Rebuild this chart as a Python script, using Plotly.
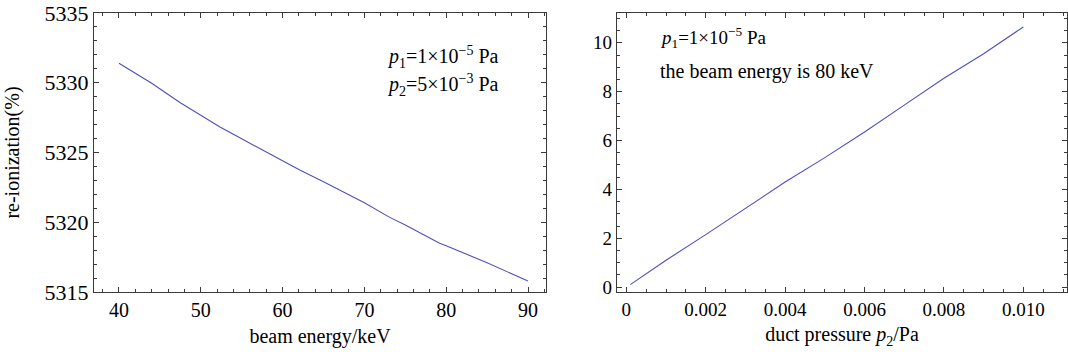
import plotly.graph_objects as go

# Left panel: re-ionization vs beam energy
energy_kev = [40, 44, 47.5, 50, 52.4, 55, 57, 60, 62.1, 65, 68.2, 70, 73.1, 75, 79.2, 80, 85, 90]
reion_left = [5331.40, 5329.96, 5328.57, 5327.70, 5326.81, 5325.98, 5325.34, 5324.41, 5323.75,
              5322.90, 5321.95, 5321.40, 5320.35, 5319.80, 5318.49, 5318.31, 5317.10, 5315.78]

# Right panel: re-ionization vs duct pressure p2
pressure_pa = [0.0001, 0.001, 0.002, 0.003, 0.004, 0.005, 0.006, 0.007, 0.008, 0.009, 0.010]
reion_right = [0.10, 1.10, 2.15, 3.22, 4.30, 5.30, 6.35, 7.45, 8.55, 9.55, 10.65]

left_xticks = [40, 50, 60, 70, 80, 90]
left_yticks = [5315, 5320, 5325, 5330, 5335]
right_xticks = [0, 0.002, 0.004, 0.006, 0.008, 0.010]
right_xlabels = ["0", "0.002", "0.004", "0.006", "0.008", "0.010"]
right_yticks = [0, 2, 4, 6, 8, 10]

LINE = "#4f4fbf"
FRAME = "#3a3a3a"
FONT = "Liberation Serif"

W, H = 1068, 362


def px(x):
    return x / W


def py(y):
    return 1 - y / H


fig = go.Figure()
fig.add_trace(go.Scatter(x=energy_kev, y=reion_left, mode="lines",
                         line=dict(color=LINE, width=1.1), xaxis="x", yaxis="y",
                         showlegend=False))
fig.add_trace(go.Scatter(x=pressure_pa, y=reion_right, mode="lines",
                         line=dict(color=LINE, width=1.1), xaxis="x2", yaxis="y2",
                         showlegend=False))

ax_common = dict(showgrid=False, zeroline=False, showline=True, linecolor=FRAME, linewidth=1.3,
                 mirror="allticks", ticks="inside", ticklen=5, tickwidth=1, tickcolor=FRAME,
                 automargin=False, ticklabeloverflow="allow")

fig.update_layout(
    template="none",
    width=W, height=H,
    margin=dict(l=0, r=0, t=0, b=0),
    paper_bgcolor="white", plot_bgcolor="white",
    font=dict(family=FONT, color="black", size=19),
    xaxis=dict(domain=[px(94), px(546)], range=[36.95, 92.2], tickvals=left_xticks,
               minor=dict(dtick=2, ticks="inside", ticklen=3, tickcolor=FRAME),
               title=dict(text="beam energy/keV", font=dict(size=20), standoff=8),
               tickfont=dict(size=20), anchor="y", **ax_common),
    yaxis=dict(domain=[py(292), py(13)], range=[5315, 5335], tickvals=left_yticks,
               minor=dict(dtick=1, ticks="inside", ticklen=3, tickcolor=FRAME),
               title=dict(text="re-ionization(%)", font=dict(size=20), standoff=19),
               tickfont=dict(size=22), anchor="x", **ax_common),
    xaxis2=dict(domain=[px(617), px(1067)], range=[-0.000235, 0.0111], tickvals=right_xticks,
                ticktext=right_xlabels,
                minor=dict(dtick=0.0005, tick0=0, ticks="inside", ticklen=3, tickcolor=FRAME),
                title=dict(text="duct pressure <i>p</i><sub>2</sub>/Pa", font=dict(size=20), standoff=8),
                tickfont=dict(size=19), anchor="y2", **ax_common),
    yaxis2=dict(domain=[py(292), py(13)], range=[-0.2, 11.22], tickvals=right_yticks,
                minor=dict(dtick=0.5, tick0=0, ticks="inside", ticklen=3, tickcolor=FRAME),
                tickfont=dict(size=19), anchor="x2", **ax_common),
)

fig.add_annotation(x=px(385), y=py(57), xref="paper", yref="paper", xanchor="left", yanchor="middle",
                   text="<i>p</i><sub>1</sub>=1×10<sup>−5</sup> Pa", showarrow=False,
                   font=dict(family=FONT, size=20, color="black"))
fig.add_annotation(x=px(385), y=py(85), xref="paper", yref="paper", xanchor="left", yanchor="middle",
                   text="<i>p</i><sub>2</sub>=5×10<sup>−3</sup> Pa", showarrow=False,
                   font=dict(family=FONT, size=20, color="black"))
fig.add_annotation(x=px(658), y=py(38), xref="paper", yref="paper", xanchor="left", yanchor="middle",
                   text="<i>p</i><sub>1</sub>=1×10<sup>−5</sup> Pa", showarrow=False,
                   font=dict(family=FONT, size=19, color="black"))
fig.add_annotation(x=px(658), y=py(72), xref="paper", yref="paper", xanchor="left", yanchor="middle",
                   text="the beam energy is 80 keV", showarrow=False,
                   font=dict(family=FONT, size=20, color="black"))

fig.write_html("out.html", config={"displayModeBar": False},
               post_script="document.body.style.margin='0px';")
